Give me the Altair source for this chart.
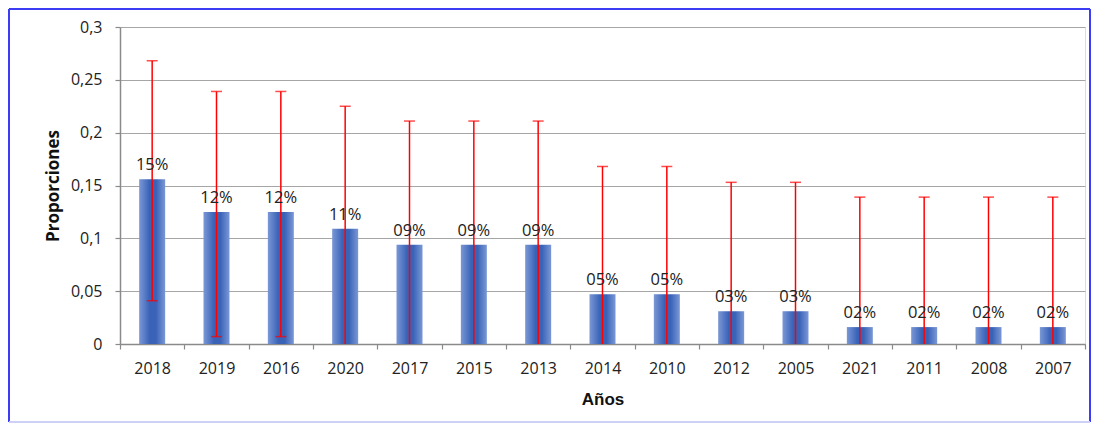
import altair as alt
import pandas as pd

years = ["2018", "2019", "2016", "2020", "2017", "2015", "2013", "2014", "2010",
         "2012", "2005", "2021", "2011", "2008", "2007"]
props = [0.156, 0.125, 0.125, 0.109, 0.094, 0.094, 0.094, 0.047, 0.047,
         0.031, 0.031, 0.016, 0.016, 0.016, 0.016]
upper = [0.268, 0.239, 0.239, 0.225, 0.211, 0.211, 0.211, 0.168, 0.168,
         0.153, 0.153, 0.139, 0.139, 0.139, 0.139]
lower = [0.041, 0.007, 0.007, 0.0, 0.0, 0.0, 0.0, 0.0, 0.0,
         0.0, 0.0, 0.0, 0.0, 0.0, 0.0]
labels = ["15%", "12%", "12%", "11%", "09%", "09%", "09%", "05%", "05%",
          "03%", "03%", "02%", "02%", "02%", "02%"]
y_ticks = [0, 0.05, 0.1, 0.15, 0.2, 0.25, 0.3]

df = pd.DataFrame({"year": years, "p": props, "up": upper, "lo": lower, "lab": labels})

FONT = "Open Sans"
W, H = 965, 317

x = alt.X("year:N", sort=years, title="Años",
          scale=alt.Scale(paddingInner=0, paddingOuter=0),
          axis=alt.Axis(labelAngle=0, tickBand="extent", labelFontSize=16, labelFont=FONT,
                        labelColor="#222", tickSize=5, labelPadding=11, domainColor="#8a8a8a",
                        domainWidth=1.5, tickWidth=1.2,
                        tickColor="#8a8a8a", titleFont="Liberation Sans", titleFontSize=17,
                        titleFontWeight="bold", titleColor="#111", titlePadding=15, grid=False))
y_scale = alt.Scale(domain=[0, 0.3], nice=False)

base = alt.Chart(df)

grad = alt.Gradient(
    gradient="linear",
    stops=[alt.GradientStop(color="#7b98d6", offset=0),
           alt.GradientStop(color="#3a63b8", offset=0.4),
           alt.GradientStop(color="#3a63b8", offset=0.65),
           alt.GradientStop(color="#7b98d6", offset=1)],
    x1=0, x2=1, y1=0, y2=0)

bars = base.mark_bar(width=26, color=grad).encode(
    x=x,
    y=alt.Y("p:Q", scale=y_scale, title="Proporciones",
            axis=alt.Axis(values=y_ticks, format=".2~f",
                          labelExpr="replace(datum.label, '.', ',')",
                          labelFontSize=16, labelFont=FONT, labelColor="#222",
                          tickSize=5, labelPadding=13, domainColor="#8a8a8a",
                          domainWidth=1.5, tickWidth=1.2,
                          tickColor="#8a8a8a", gridColor="#a6a6a6", gridWidth=1.2,
                          titleFont=FONT, titleFontSize=17,
                          titleFontWeight="bold", titleColor="#111", titlePadding=8))
)

err = base.mark_rule(color="#ff0000", strokeWidth=1.5).encode(
    x=alt.X("year:N", sort=years), y=alt.Y("lo:Q", scale=y_scale), y2="up:Q")

cap_up = base.mark_tick(color="#ff0000", size=11, thickness=1.5).encode(
    x=alt.X("year:N", sort=years), y=alt.Y("up:Q", scale=y_scale))
cap_lo = base.transform_filter("datum.lo > 0").mark_tick(
    color="#ff0000", size=11, thickness=1.5).encode(
    x=alt.X("year:N", sort=years), y=alt.Y("lo:Q", scale=y_scale))

text = base.mark_text(baseline="bottom", dy=-6, fontSize=16.5, font=FONT, color="#222").encode(
    x=alt.X("year:N", sort=years), y=alt.Y("p:Q", scale=y_scale), text="lab:N")

border_col = "#3c3cf5"
b_left = alt.Chart(df).mark_rule(color=border_col, strokeWidth=2).encode(
    x=alt.value(-111), y=alt.value(-18), y2=alt.value(395))
b_top = alt.Chart(df).mark_rule(color=border_col, strokeWidth=2).encode(
    x=alt.value(-111), x2=alt.value(970), y=alt.value(-18))
b_right = alt.Chart(df).mark_rule(color=border_col, strokeWidth=2).encode(
    x=alt.value(970), y=alt.value(-18), y2=alt.value(395))
b_bottom = alt.Chart(df).mark_rule(color="#cfd0f7", strokeWidth=2).encode(
    x=alt.value(-111), x2=alt.value(970), y=alt.value(395))

chart = alt.layer(bars, err, cap_up, cap_lo, text, b_left, b_top, b_right, b_bottom).properties(
    width=W, height=H,
    autosize=alt.AutoSizeParams(type="none"),
    padding={"left": 112, "top": 19, "right": 7, "bottom": 80},
).configure_view(stroke=None).configure(background="white")

chart.save("out.html", embed_options={"renderer": "svg", "actions": False})
